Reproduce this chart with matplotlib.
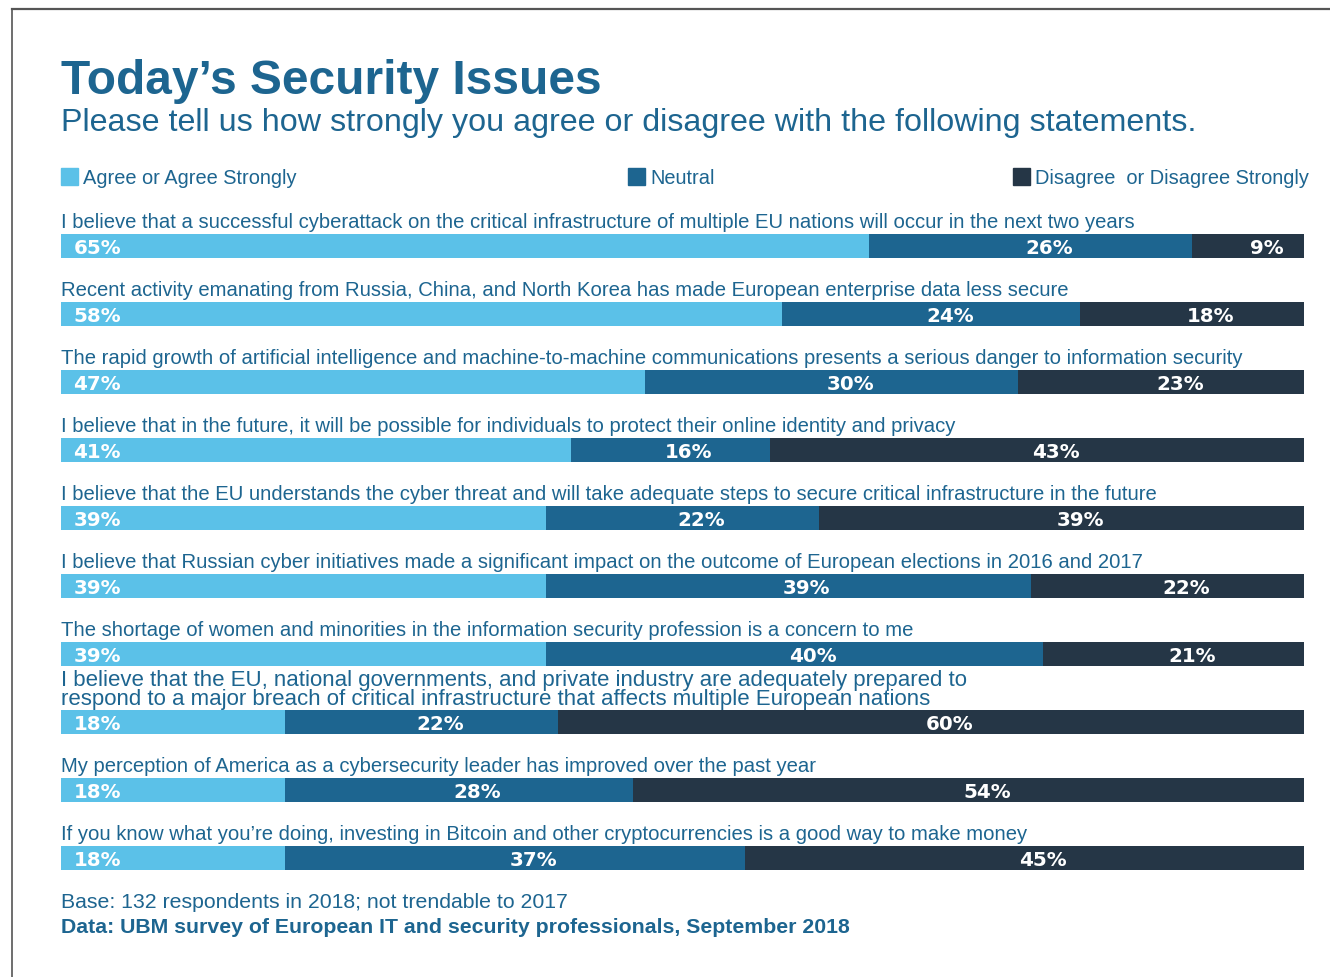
import matplotlib
matplotlib.use('Agg')
import matplotlib.pyplot as plt
from matplotlib.lines import Line2D

# survey statements, top to bottom
statements = [
    "I believe that a successful cyberattack on the critical infrastructure of multiple EU nations will occur in the next two years",
    "Recent activity emanating from Russia, China, and North Korea has made European enterprise data less secure",
    "The rapid growth of artificial intelligence and machine-to-machine communications presents a serious danger to information security",
    "I believe that in the future, it will be possible for individuals to protect their online identity and privacy",
    "I believe that the EU understands the cyber threat and will take adequate steps to secure critical infrastructure in the future",
    "I believe that Russian cyber initiatives made a significant impact on the outcome of European elections in 2016 and 2017",
    "The shortage of women and minorities in the information security profession is a concern to me",
    "I believe that the EU, national governments, and private industry are adequately prepared to\nrespond to a major breach of critical infrastructure that affects multiple European nations",
    "My perception of America as a cybersecurity leader has improved over the past year",
    "If you know what you\u2019re doing, investing in Bitcoin and other cryptocurrencies is a good way to make money",
]
agree = [65, 58, 47, 41, 39, 39, 39, 18, 18, 18]
neutral = [26, 24, 30, 16, 22, 39, 40, 22, 28, 37]
disagree = [9, 18, 23, 43, 39, 22, 21, 60, 54, 45]
series_names = ["Agree or Agree Strongly", "Neutral", "Disagree  or Disagree Strongly"]

c_agree = '#5bc1e8'
c_neutral = '#1d6590'
c_disagree = '#253646'
c_text = '#1d6590'

W, H = 1330, 977
fig = plt.figure(figsize=(W / 100, H / 100), dpi=100)
fig.patch.set_facecolor('white')

def fx(px):
    return px / W

def fy(py):
    return 1 - py / H

sans = ['Liberation Sans', 'DejaVu Sans']

# frame lines at top and left
fig.add_artist(Line2D([fx(12), 1], [fy(8.5), fy(8.5)], color='#555555', lw=1.6))
fig.add_artist(Line2D([fx(12), fx(12)], [fy(8.5), 0], color='#555555', lw=1.2))

fig.text(fx(61), fy(94), "Today\u2019s Security Issues", fontsize=34.5, fontweight='bold',
         color=c_text, family=sans, va='baseline')
fig.text(fx(61), fy(131), "Please tell us how strongly you agree or disagree with the following statements.",
         fontsize=23.2, color=c_text, family=sans, va='baseline')

# legend
leg_x = [61, 628, 1013]
for x0, name, col in zip(leg_x, series_names, [c_agree, c_neutral, c_disagree]):
    fig.patches.append(plt.Rectangle((fx(x0), fy(185)), fx(17), 17 / H, color=col,
                                     transform=fig.transFigure, figure=fig))
    fig.text(fx(x0 + 22), fy(184), name, fontsize=14.4, color=c_text, family=sans, va='baseline')

# bars
ax = fig.add_axes([fx(61), fy(892), fx(1243), 680 / H])
ax.set_xlim(0, 100)
ax.set_ylim(9.5, -0.5)
ax.axis('off')
rows = list(range(len(statements)))
bh = 24 / 68
ax.barh(rows, agree, height=bh, color=c_agree)
ax.barh(rows, neutral, left=agree, height=bh, color=c_neutral)
left2 = [a + n for a, n in zip(agree, neutral)]
ax.barh(rows, disagree, left=left2, height=bh, color=c_disagree)

pct_kw = dict(color='white', fontsize=14.3, fontweight='bold', family='DejaVu Sans', va='center')
shift = 1.5
for i in rows:
    yl = i + 0.03
    ax.text(1.0, yl, f"{agree[i]}%", ha='left', **pct_kw)
    ax.text(agree[i] + neutral[i] / 2 + shift, yl, f"{neutral[i]}%", ha='center', **pct_kw)
    ax.text(left2[i] + disagree[i] / 2 + shift, yl, f"{disagree[i]}%", ha='center', **pct_kw)
    if '\n' in statements[i]:
        ax.text(0, i - 0.47, statements[i], fontsize=16, color=c_text, family=sans,
                va='center', ha='left', linespacing=0.85)
    else:
        ax.text(0, i - 0.34, statements[i], fontsize=14.6, color=c_text, family=sans,
                va='center', ha='left')

fig.text(fx(61), fy(908), "Base: 132 respondents in 2018; not trendable to 2017",
         fontsize=15.3, color=c_text, family=sans, va='baseline')
fig.text(fx(61), fy(933), "Data: UBM survey of European IT and security professionals, September 2018",
         fontsize=15.3, fontweight='bold', color=c_text, family=sans, va='baseline')

fig.savefig('out.png', dpi=100, facecolor='white')
